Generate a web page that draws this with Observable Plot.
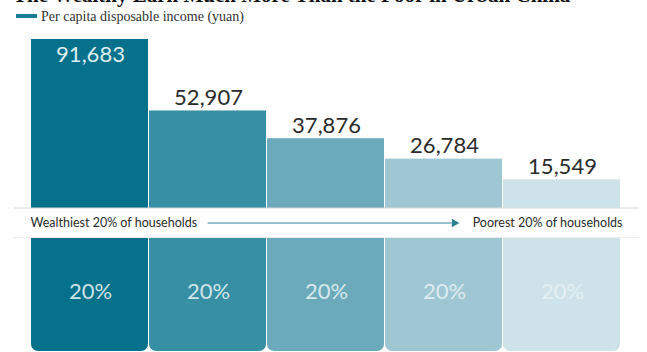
<!DOCTYPE html>
<html>
<head>
<meta charset="utf-8">
<script src="https://cdn.jsdelivr.net/npm/d3@7"></script>
<script src="https://cdn.jsdelivr.net/npm/@observablehq/plot@0.6"></script>
<style>
  html, body { margin: 0; padding: 0; background: #fff; }
  body { width: 647px; height: 352px; overflow: hidden; position: relative; font-family: Lato, sans-serif; }
  #title { position: absolute; left: 13px; top: -15px; font: bold 21px/20px "Liberation Serif", serif; color: #111; white-space: nowrap; }
  #legend { position: absolute; left: 16px; top: 9px; font: 14px/16px "Liberation Serif", serif; color: #333; display: flex; align-items: center; }
  #legend .sw { width: 21px; height: 4px; background: #1a7d95; margin-right: 4px; margin-top: -2px; }
  #topChart { position: absolute; left: 0; top: 0; }
  #bandChart { position: absolute; left: 0; top: 207px; }
  #bottomChart { position: absolute; left: 0; top: 238px; }
</style>
</head>
<body>
<div id="topChart"></div>
<div id="bandChart"></div>
<div id="bottomChart"></div>
<div id="title"></div>
<div id="legend"></div>
<script>
const title = "The Wealthy Earn Much More Than the Poor in Urban China";
const legendLabel = "Per capita disposable income (yuan)";
const groups = ["Top 20%", "Upper-middle 20%", "Middle 20%", "Lower-middle 20%", "Bottom 20%"];
const incomes = [91683, 52907, 37876, 26784, 15549];
const shares = [20, 20, 20, 20, 20];
const colors = ["#05718a", "#368fa2", "#6aaaba", "#9fc7d3", "#cde3e9"];
const bandLeft = "Wealthiest 20% of households";
const bandRight = "Poorest 20% of households";

document.getElementById("title").textContent = title;
const lg = document.getElementById("legend");
lg.innerHTML = '<span class="sw"></span><span></span>';
lg.lastChild.textContent = legendLabel;

const data = groups.map((g, i) => ({group: g, income: incomes[i], share: shares[i], color: colors[i]}));
const maxIncome = d3.max(incomes);
const fmt = d3.format(",");

const xOpts = {domain: groups, padding: 0, axis: null};

const topPlot = Plot.plot({
  width: 647, height: 208,
  marginLeft: 30, marginRight: 25, marginTop: 39, marginBottom: 0,
  x: xOpts,
  y: {axis: null},
  color: {type: "identity"},
  marks: [
    Plot.barY(data, {x: "group", y: "income", fill: "color", insetRight: 1}),
    Plot.text(data.filter(d => d.income === maxIncome), {
      x: "group", y: "income", text: d => fmt(d.income), lineAnchor: "top",
      dy: 7, fill: "#dcedf1", fontSize: 22, fontFamily: "Lato"
    }),
    Plot.text(data.filter(d => d.income !== maxIncome), {
      x: "group", y: "income", text: d => fmt(d.income), lineAnchor: "bottom",
      dy: -6, fill: "#2b2b2b", fontSize: 22, fontFamily: "Lato"
    })
  ]
});
document.getElementById("topChart").append(topPlot);

const bandPlot = Plot.plot({
  width: 647, height: 31,
  marginLeft: 30, marginRight: 25, marginTop: 0, marginBottom: 0,
  x: {domain: [0, 1], axis: null},
  y: {domain: [0, 1], range: [30.5, 0.5], axis: null},
  marks: [
    Plot.ruleY([0, 1], {stroke: "#d4d8da", strokeWidth: 1, insetLeft: -16, insetRight: -17}),
    Plot.text([bandLeft], {frameAnchor: "left", textAnchor: "start", fontSize: 12.5, fill: "#2b2b2b", fontFamily: "Lato"}),
    Plot.text([bandRight], {frameAnchor: "right", textAnchor: "end", fontSize: 12.5, fill: "#2b2b2b", fontFamily: "Lato"}),
    Plot.ruleY([0.5], {x1: 0.3, x2: 0.712, stroke: "#2a7f93", strokeWidth: 1}),
    Plot.dot([0.716], {x: d => d, y: 0.5, symbol: "triangle", rotate: 90, r: 3.2, fill: "#2a7f93", stroke: null})
  ]
});
document.getElementById("bandChart").append(bandPlot);

const bottomPlot = Plot.plot({
  width: 647, height: 114,
  marginLeft: 30, marginRight: 25, marginTop: 0, marginBottom: 1,
  x: xOpts,
  y: {axis: null},
  color: {type: "identity"},
  marks: [
    Plot.barY(data, {x: "group", y: "share", fill: "color", insetRight: 1, rx: 7}),
    Plot.barY(data, {x: "group", y1: d => d.share / 2, y2: "share", fill: "color", insetRight: 1}),
    Plot.text(data, {
      x: "group", y: d => d.share / 2, text: d => d.share + "%", dy: -3,
      fill: "#e4f1f4", fillOpacity: 0.9, fontSize: 22, fontFamily: "Lato"
    })
  ]
});
document.getElementById("bottomChart").append(bottomPlot);
</script>
</body>
</html>
